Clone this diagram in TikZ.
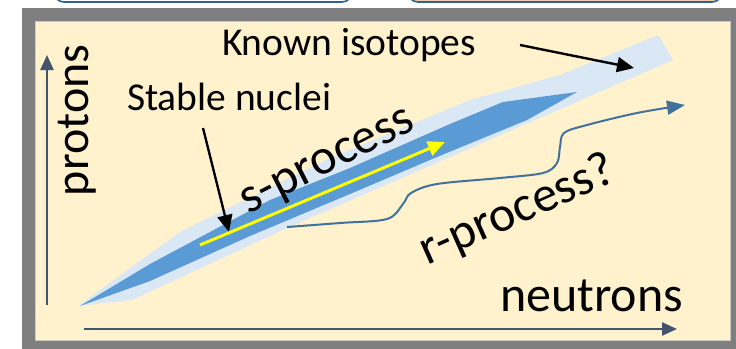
\documentclass[tikz,border=0pt]{standalone}
\usepackage{fontspec}
\setmainfont{Carlito}
\usetikzlibrary{arrows.meta}

\definecolor{framegray}{HTML}{7F7F7F}
\definecolor{frameedge}{HTML}{C8C8C8}
\definecolor{cream}{HTML}{FFF2CC}
\definecolor{isoband}{HTML}{DAE8F5}
\definecolor{stableband}{HTML}{5B9BD5}
\definecolor{axisblue}{HTML}{44546A}
\definecolor{rblue}{HTML}{41719C}
\definecolor{boxblue}{HTML}{2E5F8F}
\definecolor{boxpink}{HTML}{F8CBAD}
\definecolor{syellow}{HTML}{FFFF00}

\tikzset{
  label/.style={inner sep=0pt, outer sep=0pt, font=\fontsize{39.5}{41}\selectfont},
  biglabel/.style={inner sep=0pt, outer sep=0pt, font=\fontsize{50}{52}\selectfont},
  axisarrow/.style={draw=axisblue, line width=2.4pt, -{Triangle[length=15pt,width=13pt]}},
  pointer/.style={draw=black, line width=2.4pt, -{Triangle[length=17pt,width=15pt]}},
  sarrow/.style={draw=syellow, line width=3pt, -{Triangle[length=17pt,width=15pt]}},
  rarrow/.style={draw=rblue, line width=2pt, -{Triangle[length=18pt,width=14pt]}},
  tabbox/.style={draw=boxblue, line width=1.6pt, rounded corners=10pt}
}

\begin{document}
\begin{tikzpicture}[x=1pt, y=-1pt]
\useasboundingbox (0,0) rectangle (736,348);
\clip (0,0) rectangle (736,348);

% tabs above the panel
\path[tabbox, fill=white] (54,-40) rectangle (352,2);
\path[tabbox, fill=boxpink] (408,-40) rectangle (722,2);

% panel frame and background
\fill[framegray] (22,8) rectangle (745,360);
\fill[cream] (35,21) rectangle (730,340);
\draw[frameedge, line width=1pt] (35,21) rectangle (730,340);

% band of known isotopes
\fill[isoband] (78,306) -- (132,300) -- (287,228) -- (673,60) -- (658,35)
  -- (560,75) -- (470,100) -- (330,158) -- (180,232) -- cycle;

% band of stable nuclei
\fill[stableband] (80,306) -- (150,264) -- (270,200) -- (350,168) -- (450,124)
  -- (503,102) -- (577,92) -- (527,120) -- (437,157) -- (350,194) -- (250,236)
  -- (150,281) -- cycle;

% axes
\coordinate (ybot) at (47,305);
\coordinate (ytop) at (47,55);
\coordinate (xleft) at (84,329);
\coordinate (xright) at (677,329);
\draw[axisarrow] (ybot) -- (ytop);
\draw[axisarrow] (xleft) -- (xright);

\node[biglabel, font=\fontsize{48}{50}\selectfont, rotate=90, anchor=base west]
  (protons) at (88,196) {protons};
\node[biglabel, anchor=base west] (neutrons) at (500,311) {neutrons};

% labels and pointers
\node[label, anchor=base west] (known) at (222,55) {Known isotopes};
\node[label, anchor=base west] (stable) at (127,110) {Stable nuclei};

\coordinate (knownfrom) at (520,45);
\coordinate (knownto) at (634,68);
\draw[pointer] (knownfrom) -- (knownto);

\coordinate (stablefrom) at (203,128);
\coordinate (stableto) at (229,232);
\draw[pointer] (stablefrom) -- (stableto);

% s-process path along the valley of stability
\coordinate (sfrom) at (200,245);
\coordinate (sto) at (445,142);
\draw[sarrow] (sfrom) -- (sto);
\node[biglabel, rotate=27] (sproc) at (329,164) {s-process};

% r-process path away from stability
\coordinate (rfrom) at (287,227);
\coordinate (rto) at (685,105);
\draw[rarrow] plot[smooth, tension=0.55] coordinates {(rfrom) (340,223) (387,219)
  (403,204) (411,193) (437,184) (500,178) (543,173) (557,163) (560,147)
  (564,133) (587,125) (637,113) (rto)};
\node[biglabel, rotate=24] (rproc) at (518,211) {r-process?};
\end{tikzpicture}
\end{document}
